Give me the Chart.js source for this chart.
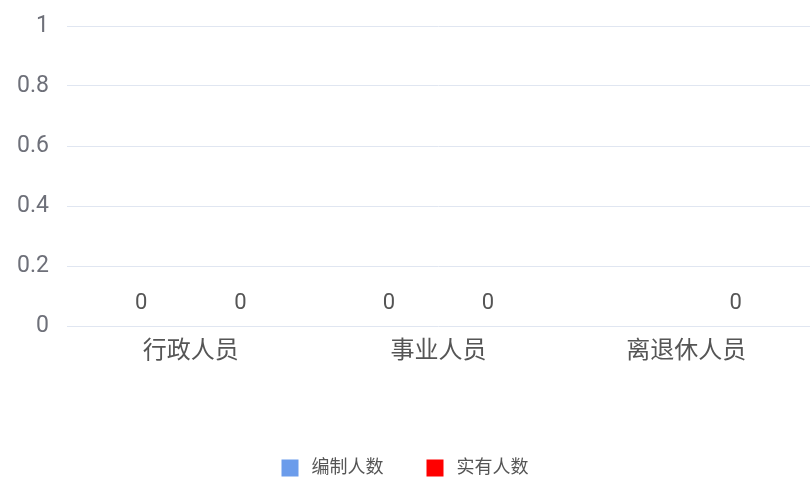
<!DOCTYPE html>
<html>
<head>
<meta charset="utf-8">
<script src="https://cdn.jsdelivr.net/npm/chart.js@4/dist/chart.umd.min.js"></script>
<style>
  html, body { margin: 0; padding: 0; background: #fff; }
  #wrap { width: 810px; height: 481px; }
</style>
</head>
<body>
<div id="wrap"><canvas id="staffChart"></canvas></div>
<script>
// Categorias e séries
const categories = ['行政人员', '事业人员', '离退休人员'];
const bianzhiRenshu = [0, 0, null];   // 编制人数
const shiyouRenshu = [0, 0, 0];       // 实有人数
const yTicks = [0, 0.2, 0.4, 0.6, 0.8, 1];

const fontFamily = 'Roboto, "Noto Sans CJK SC", sans-serif';

// Plugin simples para escrever o valor acima de cada barra
const valueLabels = {
    id: 'valueLabels',
    afterDatasetsDraw(chart) {
        const ctx = chart.ctx;
        ctx.save();
        ctx.font = '22px ' + fontFamily;
        ctx.fillStyle = '#555';
        ctx.textAlign = 'center';
        ctx.textBaseline = 'middle';
        chart.data.datasets.forEach((ds, i) => {
            chart.getDatasetMeta(i).data.forEach((bar, j) => {
                const v = ds.data[j];
                if (v === null || v === undefined) return;
                ctx.fillText(String(v), bar.x, bar.y - 23);
            });
        });
        ctx.restore();
    }
};

// Legenda desenhada à mão, centralizada embaixo
const bottomLegend = {
    id: 'bottomLegend',
    afterDraw(chart) {
        const ctx = chart.ctx;
        const box = 17, gapText = 13, gapItem = 43, y = 468;
        ctx.save();
        ctx.font = '18px ' + fontFamily;
        ctx.textBaseline = 'middle';
        const items = chart.data.datasets.map(ds => ({
            text: ds.label, color: ds.backgroundColor, w: ctx.measureText(ds.label).width
        }));
        let total = 0;
        items.forEach((it, i) => { total += box + gapText + it.w + (i ? gapItem : 0); });
        let x = chart.width / 2 - total / 2;
        items.forEach(it => {
            ctx.fillStyle = it.color;
            ctx.fillRect(x, y - box / 2, box, box);
            ctx.fillStyle = '#555';
            ctx.fillText(it.text, x + box + gapText, y);
            x += box + gapText + it.w + gapItem;
        });
        ctx.restore();
    }
};

new Chart(document.getElementById('staffChart'), {
    type: 'bar',
    data: {
        labels: categories,
        datasets: [
            { label: '编制人数', data: bianzhiRenshu, backgroundColor: '#6b9ceb' },
            { label: '实有人数', data: shiyouRenshu, backgroundColor: '#ff0000' }
        ]
    },
    options: {
        responsive: true,
        maintainAspectRatio: false,
        animation: false,
        layout: { padding: { top: 26, right: 0, bottom: 105, left: 0 } },
        categoryPercentage: 0.8,
        barPercentage: 1,
        scales: {
            x: {
                grid: { display: false },
                border: { display: false },
                ticks: { color: '#555', font: { family: fontFamily, size: 24 }, padding: 4 },
                afterFit(scale) {
                    scale.height = 50;
                    scale.paddingLeft = 0;
                    scale.paddingRight = 0;
                }
            },
            y: {
                min: 0,
                max: 1,
                afterBuildTicks(scale) { scale.ticks = yTicks.map(v => ({ value: v })); },
                grid: { color: '#e0e6f1', drawTicks: false },
                border: { display: false },
                ticks: {
                    color: '#6e7079',
                    font: { family: fontFamily, size: 23 },
                    padding: 18,
                    callback: v => String(v)
                },
                afterFit(scale) {
                    scale.width = 67;
                    scale.paddingTop = 0;
                    scale.paddingBottom = 0;
                }
            }
        },
        plugins: {
            legend: { display: false },
            tooltip: { enabled: false }
        }
    },
    plugins: [valueLabels, bottomLegend]
});
</script>
</body>
</html>
